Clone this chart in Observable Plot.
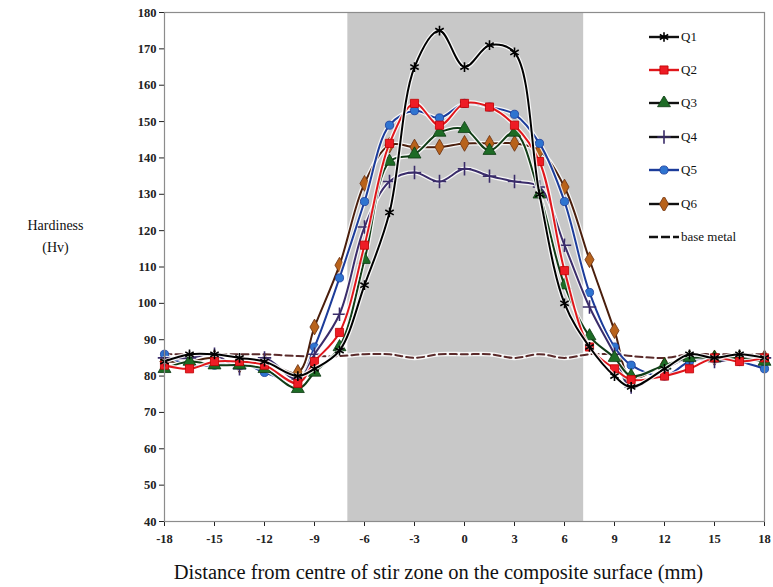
<!DOCTYPE html>
<html><head><meta charset="utf-8">
<script src="https://cdn.jsdelivr.net/npm/d3@7"></script>
<script src="https://cdn.jsdelivr.net/npm/@observablehq/plot@0.6"></script>
<style>
body{margin:0;background:#fff;}
#wrap{position:relative;width:773px;height:587px;overflow:hidden;}
#legend{position:absolute;left:648px;top:20px;font-family:"Liberation Serif","Times New Roman",serif;font-size:13px;color:#111;}
#legend .row{display:flex;align-items:center;height:33.4px;}
#legend svg{display:block;margin-right:1px;}
</style></head><body><div id="wrap"><div id="legend"></div></div>
<script>
// ---- data ----
const distances = [-18,-16.5,-15,-13.5,-12,-10,-9,-7.5,-6,-4.5,-3,-1.5,0,1.5,3,4.5,6,7.5,9,10,12,13.5,15,16.5,18];
const q1 = [84,86,86,85,84,80,82,87,105,125,165,175,165,171,169,130,100,88,80,77,82,86,85,86,85];
const q2 = [83,82,84,84,83,78,84,92,116,144,155,149,155,154,149,139,109,88,82,79,80,82,85,84,85];
const q3 = [82,84,83,83,82,76.5,81,88,112,139,141,147,148,142,147,130,105,91,85,80,83,85,85,85,84];
const q4 = [85,85,86,82,85,79,86,97,121,133.5,136,133.5,137,135,133.5,132,116,99,86,77,82,85,84,85,85];
const q5 = [86,83,83,84,81,79,88,107,128,149,153,151,155,154,152,144,128,103,88,83,80,84,85,84,82];
const q6 = [84,84,85,83,84,81,93.5,110.5,133,143.5,143,143,144,144,144,142,132,112,92.5,79.5,83,85,85,85,85];
const baseMetal = [86,86,86,86,86,85.5,85.5,85.5,86,86,85,86,86,86,85,86,85,86,86,85.5,85,86,86,86,86];
const seriesNames = ["Q1","Q2","Q3","Q4","Q5","Q6","base metal"];
const xTicks = [-18,-15,-12,-9,-6,-3,0,3,6,9,12,15,18];
const yTicks = [40,50,60,70,80,90,100,110,120,130,140,150,160,170,180];
const stirZone = [-7, 7.15];

// ---- styles ----
const styles = {
  "Q1": {line:"#000000", symbol:"asterisk", mode:"stroke", mark:"#000000", r:4.6},
  "Q2": {line:"#e0161b", symbol:"square", mode:"fill", mark:"#ee1c25", edge:"#c00000", r:4.6},
  "Q3": {line:"#103c16", symbol:"triangle", mode:"fill", mark:"#1d6b25", edge:"#0d3a12", r:4.8},
  "Q4": {line:"#3a2c6a", symbol:"plus", mode:"stroke", mark:"#3a2c6a", r:4.4},
  "Q5": {line:"#1c3c9a", symbol:"circle", mode:"fill", mark:"#2f74d0", edge:"#1c3c9a", r:4.1},
  "Q6": {line:"#4a1e0c", symbol:"diamond", mode:"fill", mark:"#b8621b", edge:"#6a3010", r:4.8},
  "base metal": {line:"#5a2a2a", dash:"7,4"}
};
const values = [q1,q2,q3,q4,q5,q6,baseMetal];
const table = seriesNames.map((name,i)=>distances.map((d,j)=>({x:d, y:values[i][j], series:name})));

// ---- marks ----
const marks = [
  Plot.rect([{x1:stirZone[0], x2:stirZone[1]}], {x1:"x1", x2:"x2", fill:"#c8c8c8"})
];
const order = [6,5,4,3,2,1,0];
for (const i of order) {
  const name = seriesNames[i], s = styles[name], rows = table[i];
  marks.push(Plot.line(rows, {x:"x", y:"y", curve:"catmull-rom", stroke:"#ffffff", strokeOpacity:0.85, strokeWidth:4.5}));
  marks.push(Plot.line(rows, {x:"x", y:"y", curve:"catmull-rom", stroke:s.line, strokeWidth:2, strokeDasharray:s.dash}));
  if (s.symbol) {
    if (s.mode === "fill") {
      marks.push(Plot.dot(rows, {x:"x", y:"y", symbol:s.symbol, r:s.r, fill:s.mark, stroke:s.edge, strokeWidth:0.8}));
    } else {
      marks.push(Plot.dot(rows, {x:"x", y:"y", symbol:s.symbol, r:s.r, stroke:s.mark, strokeWidth:1.6}));
    }
  }
}
marks.push(Plot.frame({stroke:"#8c8c8c", strokeWidth:1.2}));
marks.push(Plot.text(["Hardiness\n(Hv)"], {frameAnchor:"left", dx:-109, dy:-33, text:d=>d, textAnchor:"middle", fontSize:14, fontWeight:"normal", lineHeight:1.6, fill:"#111"}));
marks.push(Plot.text(["Distance from centre of stir zone on the composite surface (mm)"], {frameAnchor:"bottom", dx:-26, dy:57, text:d=>d, textAnchor:"middle", fontSize:20.5, fill:"#111", fontWeight:"normal"}));

const chart = Plot.plot({
  width:773, height:587,
  marginLeft:164, marginRight:9, marginTop:12, marginBottom:66,
  style:{fontFamily:"'Liberation Serif', 'Times New Roman', serif", fontSize:"12.5px", fontWeight:"bold", color:"#222", background:"#fff"},
  x:{domain:[-18,18], ticks:xTicks, tickFormat:d=>String(d), tickSize:5, tickPadding:8, label:null},
  y:{domain:[40,180], ticks:yTicks, tickFormat:d=>String(d), tickSize:5, tickPadding:3, label:null},
  marks
});
document.getElementById("wrap").prepend(chart);

// ---- legend (HTML overlay) ----
const legend = d3.select("#legend");
const symMap = {asterisk:d3.symbolAsterisk, square:d3.symbolSquare, triangle:d3.symbolTriangle, plus:d3.symbolPlus, circle:d3.symbolCircle, diamond:d3.symbolDiamond};
for (const name of seriesNames) {
  const s = styles[name];
  const row = legend.append("div").attr("class","row");
  const svg = row.append("svg").attr("width",32).attr("height",14);
  svg.append("line").attr("x1",1).attr("x2",31).attr("y1",7).attr("y2",7)
    .attr("stroke", (name==="Q2" || name==="Q5") ? s.line : "#111")
    .attr("stroke-width",2.4).attr("stroke-dasharray", s.dash ? "9,3" : null);
  if (s.symbol) {
    const p = d3.symbol(symMap[s.symbol], Math.PI*s.r*s.r)();
    const g = svg.append("path").attr("d",p).attr("transform","translate(16,7)");
    if (s.mode==="fill") g.attr("fill",s.mark).attr("stroke",s.edge).attr("stroke-width",0.8);
    else g.attr("fill","none").attr("stroke",s.mark).attr("stroke-width",1.6);
  }
  row.append("span").text(name);
}
</script>
</body></html>
